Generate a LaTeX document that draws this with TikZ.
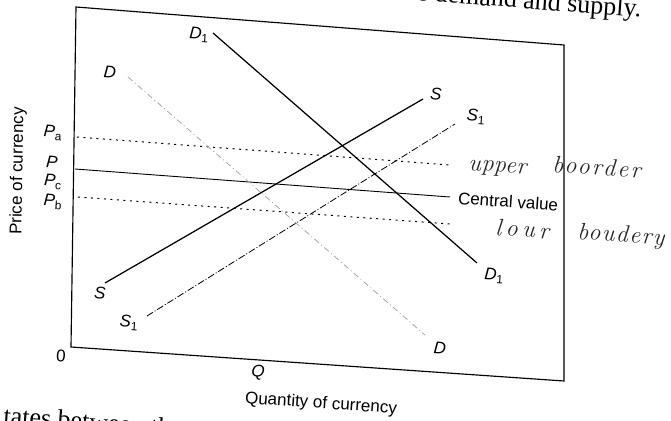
\documentclass[tikz,border=0pt]{standalone}
\usepackage{fontspec}
\setsansfont{Liberation Sans}
\newfontfamily\bookfont{Liberation Serif}
\newfontfamily\handfont{Latin Modern Roman}
\begin{document}
\begin{tikzpicture}[x=1pt,y=-1pt,
  frame/.style={line width=1.15pt, line join=miter},
  curve/.style={line width=1.25pt},
  midline/.style={line width=0.9pt},
  bandline/.style={line width=1pt, dash pattern=on 2pt off 4.5pt},
  shiftline/.style={line width=0.8pt, dash pattern=on 7pt off 2pt on 1pt off 2pt},
  faintline/.style={line width=0.8pt, gray!70, dash pattern=on 6pt off 3pt on 1pt off 3pt},
  lab/.style={font=\sffamily\fontsize{17}{19}\selectfont, inner sep=0pt, rotate=-4},
  hand/.style={font=\handfont\itshape\fontsize{24}{26}\selectfont, inner sep=0pt, rotate=-4, black!85, anchor=base west},
  book/.style={font=\bookfont\fontsize{26}{28}\selectfont, inner sep=0pt, rotate=-4.2}
]
\clip (0,0) rectangle (671,420);
\fill[white] (0,0) rectangle (671,420);

% frame
\coordinate (tl) at (76,7);
\coordinate (tr) at (564,45);
\coordinate (br) at (564,381);
\coordinate (bl) at (71,347);
\draw[frame] (tl) -- (tr) -- (br) -- (bl) -- cycle;

% book text cut at the edges
\node[book, anchor=base east] (toptext) at (641,17) {e demand and supply.};
\node[book, anchor=base west] (bottomtext) at (3,424) {tates between th};

% price levels
\coordinate (pa0) at (77,137);  \coordinate (pa1) at (450,165);
\coordinate (p0) at (75,169);   \coordinate (p1) at (450,197);
\coordinate (pb0) at (78,197);  \coordinate (pb1) at (450,224);
\draw[bandline] (pa0) -- (pa1);
\draw[midline] (p0) -- (p1);
\draw[bandline] (pb0) -- (pb1);

% demand and supply lines
\coordinate (d1a) at (213,33);  \coordinate (d1b) at (477,263);
\coordinate (da) at (128,77);   \coordinate (db) at (425,335);
\coordinate (sa) at (105,283);  \coordinate (sb) at (423,99);
\coordinate (s1a) at (147,316); \coordinate (s1b) at (455,124);
\draw[faintline] (da) -- (db);
\draw[shiftline] (s1a) -- (s1b);
\draw[curve] (d1a) -- (d1b);
\draw[curve] (sa) -- (sb);

% labels
\node[lab] (lpa) at (53,133) {\textit{P}\textsubscript{a}};
\node[lab] (lp)  at (52,162) {\textit{P}};
\node[lab] (lpc) at (53,182) {\textit{P}\textsubscript{c}};
\node[lab] (lpb) at (53,202) {\textit{P}\textsubscript{b}};
\node[lab] (lzero) at (61,356) {0};
\node[lab] (lq) at (258,373) {\textit{Q}};
\node[lab, rotate=93] (ylab) at (18,171) {Price of currency};
\node[lab] (xlab) at (321,404) {Quantity of currency};
\node[lab, anchor=west] (cv) at (458,198) {Central value};

\node[lab] (ld1t) at (199,35) {\textit{D}\textsubscript{1}};
\node[lab] (ldt)  at (110,72) {\textit{D}};
\node[lab] (lst)  at (436,94) {\textit{S}};
\node[lab] (ls1t) at (476,117) {\textit{S}\textsubscript{1}};
\node[lab] (ld1b) at (494,276) {\textit{D}\textsubscript{1}};
\node[lab] (ldb)  at (440,348) {\textit{D}};
\node[lab] (lsb)  at (100,293) {\textit{S}};
\node[lab] (ls1b) at (129,323) {\textit{S}\textsubscript{1}};

% handwritten notes
\node[hand] (upper) at (468,170) {\addfontfeature{LetterSpace=2}upper};
\node[hand] (boorder) at (552,172) {\addfontfeature{LetterSpace=10}boorder};
\node[hand] (lour) at (495,235) {\addfontfeature{LetterSpace=18}lour};
\node[hand] (boudery) at (577,239) {\addfontfeature{LetterSpace=6}boudery};
\end{tikzpicture}
\end{document}
